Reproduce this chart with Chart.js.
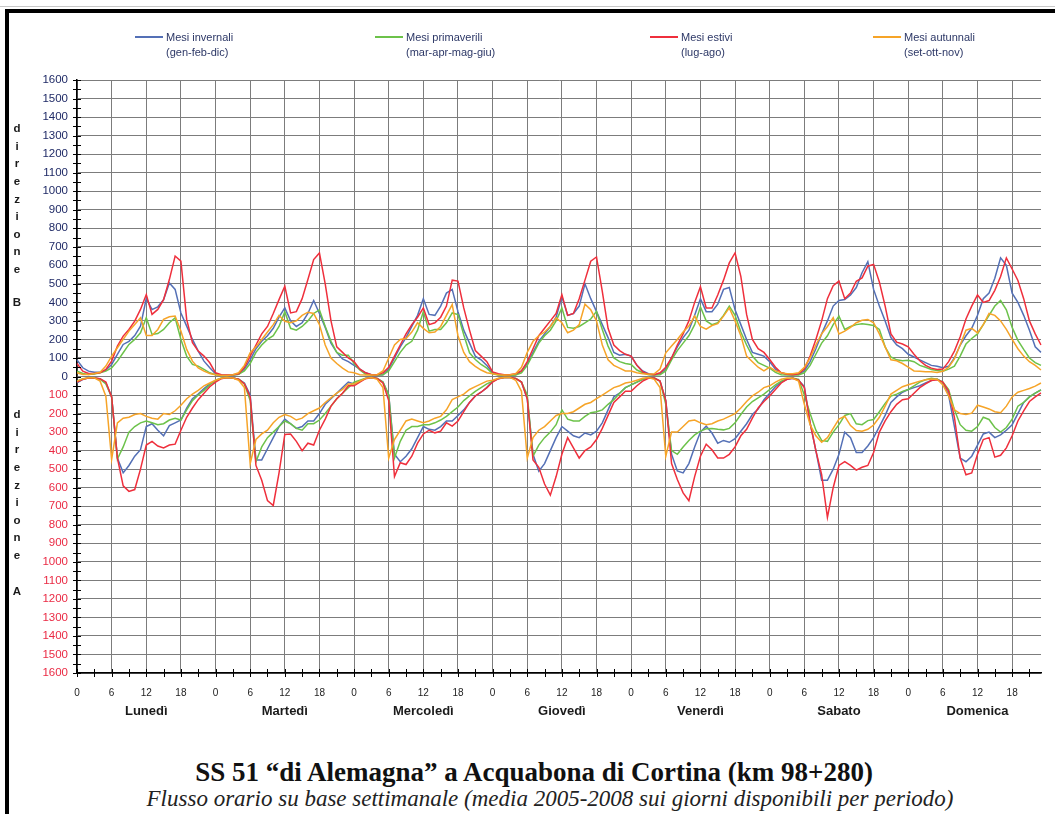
<!DOCTYPE html>
<html>
<head>
<meta charset="utf-8">
<script src="https://cdn.jsdelivr.net/npm/chart.js@4.4.0/dist/chart.umd.min.js"></script>
<style>
  body { margin: 0; background: #fff; width: 1055px; height: 814px; overflow: hidden; position: relative;
         font-family: "Liberation Sans", Arial, sans-serif; }
  #frame { position: absolute; left: 5px; top: 9px; width: 1100px; height: 900px;
           border-left: 4px solid #000; border-top: 4px solid #000; }
  #topline { position: absolute; left: 0; top: 6px; width: 1055px; height: 1px; background: #c8c8c8; }
  #box { position: absolute; left: 0; top: 0; width: 1055px; height: 740px; }
  .leg { position: absolute; font-size: 11px; line-height: 15px; color: #2c3766; white-space: nowrap; }
  .ln { position: absolute; height: 2px; width: 28px; }
  #title { position: absolute; left: 0; top: 756px; width: 1068px; text-align: center;
           font-family: "Liberation Serif", "DejaVu Serif", serif; font-weight: bold; font-size: 27px; line-height: 32px; color: #111; }
  #sub { position: absolute; left: 0; top: 785px; width: 1100px; text-align: center;
         font-family: "Liberation Serif", "DejaVu Serif", serif; font-style: italic; font-size: 23px; line-height: 27px; color: #222; }
</style>
</head>
<body>
<div id="topline"></div>
<div id="frame"></div>
<div id="box"><canvas id="grafico" width="1055" height="740"></canvas></div>
<div id="legend"></div>
<div id="title">SS 51 “di Alemagna” a Acquabona di Cortina (km 98+280)</div>
<div id="sub">Flusso orario su base settimanale (media 2005-2008 sui giorni disponibili per periodo)</div>
<script>
var GIORNI = ['Lunedì', 'Martedì', 'Mercoledì', 'Giovedì', 'Venerdì', 'Sabato', 'Domenica'];
var ORE = [0,1,2,3,4,5,6,7,8,9,10,11,12,13,14,15,16,17,18,19,20,21,22,23];

// direzione B (valori positivi), una riga per giorno
var invernaliB = [
  90,47,29,23,23,34,65,119,173,190,221,272,421,361,376,415,505,470,343,272,200,137,83,47,
  15,5,5,8,12,40,90,150,190,220,260,320,370,300,270,290,340,410,340,265,180,130,95,80,
  60,40,20,10,8,10,40,100,160,210,270,330,420,335,330,380,450,470,350,250,180,110,90,60,
  20,10,8,8,10,30,70,130,190,230,270,320,430,330,340,380,500,420,350,280,210,130,115,120,
  110,60,30,15,10,15,40,100,160,210,250,330,420,350,350,390,470,480,360,280,200,130,120,110,
  80,40,20,12,10,12,30,80,150,230,300,380,410,415,440,480,560,620,470,380,300,210,170,150,
  120,105,90,75,60,55,47,55,100,170,220,260,330,420,450,530,640,600,450,400,330,250,160,130
];
var primaveriliB = [
  29,16,11,14,20,29,47,83,128,173,200,236,317,227,232,254,290,317,200,110,65,56,38,20,
  10,5,5,8,12,30,70,130,170,200,220,270,350,260,250,270,300,340,360,270,190,130,115,115,
  70,35,12,8,8,10,30,80,130,170,190,250,350,245,254,254,290,343,334,225,128,92,65,45,
  15,8,5,5,8,20,60,120,180,220,250,300,370,265,260,270,290,310,352,254,164,100,80,70,
  65,35,20,10,8,10,30,90,140,180,220,280,376,300,280,290,330,380,330,240,170,110,75,60,
  45,22,10,8,8,8,20,60,120,180,220,280,326,254,270,280,285,280,275,254,160,105,90,85,
  88,80,60,50,38,32,29,40,56,110,175,205,230,280,330,380,410,360,265,195,146,100,75,60
];
var estiviB = [
  70,29,16,16,20,38,83,164,218,254,299,362,442,335,362,415,523,650,622,308,182,137,110,74,
  20,10,8,10,15,50,110,170,230,270,340,415,487,343,350,420,523,631,667,500,300,160,130,100,
  80,40,20,10,10,20,50,110,170,230,280,320,370,280,290,320,380,520,515,370,250,140,110,80,
  25,15,10,10,15,30,80,150,220,260,300,340,442,330,340,420,520,622,645,460,260,170,140,120,
  110,60,25,12,10,20,50,100,170,230,300,400,484,370,370,440,520,613,667,540,335,200,150,130,
  92,50,20,12,10,15,40,110,200,300,420,490,515,420,450,514,532,595,605,510,380,230,185,175,
  160,120,85,60,45,38,40,80,137,215,310,380,440,400,410,465,540,640,580,518,420,300,230,170
];
var autunnaliB = [
  20,11,11,16,23,56,110,155,200,245,281,317,221,221,254,308,322,326,245,146,83,47,29,16,
  10,5,5,10,20,60,128,160,200,240,280,330,298,290,300,330,347,340,280,170,100,70,45,25,
  20,10,8,8,10,30,100,170,200,205,240,290,260,236,240,270,330,388,220,130,80,55,35,20,
  15,10,8,10,15,50,130,190,220,240,270,317,290,236,250,280,390,360,300,170,90,60,45,30,
  30,20,15,12,15,40,128,164,200,240,272,326,270,255,275,285,326,370,300,220,110,80,50,30,
  50,30,20,15,15,20,50,100,170,230,270,317,230,245,265,290,303,308,290,230,160,90,85,70,
  50,30,28,25,25,22,28,50,95,170,250,260,235,280,340,330,300,254,200,150,110,80,60,35
];

// direzione A (disegnata sotto lo zero)
var invernaliA = [
  -34,-16,-7,-7,-13,-34,-110,-440,-520,-480,-430,-395,-270,-255,-290,-320,-265,-250,-235,-170,-120,-95,-65,-40,
  -25,-10,-5,-8,-15,-35,-100,-450,-450,-390,-330,-270,-230,-255,-280,-270,-240,-240,-200,-150,-120,-90,-60,-30,
  -40,-25,-10,-5,-10,-30,-100,-420,-460,-430,-390,-330,-270,-285,-290,-270,-240,-240,-210,-180,-140,-105,-85,-60,
  -25,-12,-6,-5,-10,-30,-120,-420,-511,-470,-400,-330,-270,-295,-320,-330,-305,-315,-295,-250,-180,-110,-90,-60,
  -45,-30,-15,-8,-8,-25,-130,-420,-510,-520,-470,-380,-300,-268,-305,-360,-345,-355,-335,-295,-255,-205,-175,-125,
  -90,-55,-30,-15,-10,-20,-55,-250,-400,-560,-560,-500,-420,-300,-330,-410,-410,-375,-330,-270,-210,-140,-110,-85,
  -70,-60,-50,-35,-22,-14,-32,-100,-270,-440,-460,-430,-370,-310,-300,-330,-315,-290,-260,-200,-140,-110,-90,-72
];
var primaveriliA = [
  -25,-12,-8,-8,-15,-40,-110,-445,-380,-300,-270,-250,-240,-250,-260,-255,-235,-225,-235,-180,-130,-100,-75,-45,
  -20,-8,-5,-8,-15,-40,-130,-460,-380,-330,-300,-270,-240,-255,-280,-290,-255,-255,-235,-200,-160,-120,-90,-60,
  -30,-20,-10,-5,-10,-30,-100,-440,-350,-290,-270,-270,-260,-260,-250,-235,-215,-190,-165,-130,-105,-80,-60,-40,
  -25,-10,-5,-5,-10,-30,-100,-430,-370,-330,-300,-260,-180,-230,-240,-240,-215,-195,-190,-180,-150,-125,-90,-60,
  -45,-30,-15,-8,-8,-25,-150,-400,-420,-380,-345,-315,-295,-282,-280,-285,-288,-280,-250,-205,-165,-135,-115,-95,
  -70,-45,-25,-12,-8,-15,-100,-200,-290,-345,-350,-300,-260,-210,-200,-255,-260,-238,-232,-190,-145,-106,-95,-80,
  -70,-50,-30,-18,-10,-15,-30,-70,-180,-260,-290,-295,-270,-220,-232,-275,-300,-275,-230,-160,-140,-110,-90,-72
];
var estiviA = [
  -30,-15,-8,-8,-12,-30,-110,-440,-590,-620,-610,-500,-370,-350,-375,-385,-370,-365,-290,-220,-170,-125,-90,-55,
  -30,-12,-5,-8,-15,-40,-110,-480,-560,-670,-696,-520,-313,-310,-350,-400,-360,-370,-290,-230,-160,-120,-90,-50,
  -50,-30,-12,-5,-10,-35,-130,-540,-465,-475,-430,-360,-310,-290,-304,-295,-250,-268,-240,-190,-140,-105,-85,-60,
  -30,-12,-6,-5,-10,-30,-120,-450,-490,-580,-640,-540,-420,-330,-385,-440,-400,-380,-340,-280,-210,-140,-110,-80,
  -80,-50,-25,-10,-8,-25,-130,-470,-556,-628,-670,-540,-430,-365,-395,-440,-440,-420,-380,-320,-285,-225,-170,-135,
  -105,-70,-35,-15,-10,-20,-60,-250,-400,-530,-760,-600,-480,-460,-480,-505,-490,-480,-410,-300,-240,-190,-150,-125,
  -120,-90,-60,-40,-22,-18,-30,-80,-220,-440,-530,-520,-420,-340,-330,-435,-425,-385,-320,-240,-185,-135,-110,-88
];
var autunnaliA = [
  -25,-13,-7,-7,-25,-106,-448,-250,-225,-220,-205,-200,-215,-225,-230,-200,-205,-185,-155,-120,-95,-75,-50,-35,
  -20,-10,-5,-8,-20,-60,-470,-340,-310,-290,-250,-220,-205,-215,-235,-225,-200,-185,-170,-140,-115,-90,-70,-40,
  -40,-25,-10,-5,-15,-60,-440,-340,-290,-240,-230,-240,-250,-240,-225,-215,-180,-125,-110,-95,-70,-55,-40,-25,
  -20,-10,-5,-5,-20,-80,-440,-330,-290,-270,-240,-210,-200,-200,-190,-170,-150,-140,-120,-100,-80,-60,-50,-35,
  -30,-20,-10,-5,-15,-60,-430,-300,-300,-270,-240,-235,-250,-260,-255,-240,-230,-215,-200,-170,-135,-105,-85,-60,
  -50,-30,-15,-8,-10,-25,-150,-260,-320,-355,-330,-280,-230,-215,-265,-292,-295,-285,-262,-220,-160,-95,-75,-55,
  -45,-35,-25,-18,-14,-15,-45,-105,-180,-200,-205,-198,-155,-165,-175,-190,-195,-160,-110,-85,-75,-65,-52,-35
];

var LEGENDA = [
  ['Mesi invernali', '(gen-feb-dic)'],
  ['Mesi primaverili', '(mar-apr-mag-giu)'],
  ['Mesi estivi', '(lug-ago)'],
  ['Mesi autunnali', '(set-ott-nov)']
];

var BLU = '#5470b6', VERDE = '#6cc24a', ROSSO = '#ef2f3c', ARANCIO = '#f6a428';
var GRIGLIA = '#7c7c7c';
var legX = [135, 375, 650, 873];

// legenda in html (etichette su due righe)
var legColors = [BLU, VERDE, ROSSO, ARANCIO];
var legEl = document.getElementById('legend');
for (var i = 0; i < LEGENDA.length; i++) {
  var ln = document.createElement('div');
  ln.className = 'ln';
  ln.style.left = legX[i] + 'px';
  ln.style.top = '36px';
  ln.style.background = legColors[i];
  legEl.appendChild(ln);
  var t = document.createElement('div');
  t.className = 'leg';
  t.style.left = (legX[i] + 31) + 'px';
  t.style.top = '30px';
  t.innerHTML = LEGENDA[i][0] + '<br>' + LEGENDA[i][1];
  legEl.appendChild(t);
}

var labels = [];
GIORNI.forEach(function() { ORE.forEach(function(h) { labels.push(h); }); });

function serie(data, color) {
  return { data: data, borderColor: color, borderWidth: 1.5, pointRadius: 0, tension: 0, fill: false };
}

// tacche minori, nomi dei giorni, scritte "direzione"
var extra = {
  id: 'extra',
  afterDraw: function(chart) {
    var ctx = chart.ctx, xs = chart.scales.x, ys = chart.scales.y, a = chart.chartArea;
    ctx.save();
    ctx.strokeStyle = '#000';
    ctx.lineWidth = 1;
    ctx.beginPath();
    for (var v = -1600; v <= 1600; v += 50) {
      var y = Math.round(ys.getPixelForValue(v)) + 0.5;
      ctx.moveTo(a.left - 4, y);
      ctx.lineTo(a.left + 4, y);
    }
    for (var k = 0; k < labels.length; k += 3) {
      var x = Math.round(xs.getPixelForValue(k)) + 0.5;
      ctx.moveTo(x, a.bottom - 4);
      ctx.lineTo(x, a.bottom + 4);
    }
    ctx.stroke();

    ctx.fillStyle = '#1a1a1a';
    ctx.font = 'bold 13px "Liberation Sans", Arial, sans-serif';
    ctx.textAlign = 'center';
    ctx.textBaseline = 'middle';
    for (var d = 0; d < GIORNI.length; d++) {
      ctx.fillText(GIORNI[d], xs.getPixelForValue(d * 24 + 12), 711);
    }

    ctx.font = 'bold 11.5px "Liberation Sans", Arial, sans-serif';
    var lettere = 'direzione'.split('');
    for (var j = 0; j < lettere.length; j++) {
      ctx.fillText(lettere[j], 17, 129 + j * 17.6);
      ctx.fillText(lettere[j], 17, 415 + j * 17.6);
    }
    ctx.fillText('B', 17, 303);
    ctx.fillText('A', 17, 592);
    ctx.restore();
  }
};

Chart.defaults.font.family = '"Liberation Sans", Arial, sans-serif';

new Chart(document.getElementById('grafico'), {
  type: 'line',
  data: {
    labels: labels,
    datasets: [
      serie(autunnaliB, ARANCIO), serie(autunnaliA, ARANCIO),
      serie(estiviB, ROSSO), serie(estiviA, ROSSO),
      serie(primaveriliB, VERDE), serie(primaveriliA, VERDE),
      serie(invernaliB, BLU), serie(invernaliA, BLU)
    ]
  },
  options: {
    responsive: false,
    animation: false,
    layout: { padding: { left: 0, right: 3, top: 80, bottom: 0 } },
    plugins: { legend: { display: false }, tooltip: { enabled: false } },
    scales: {
      x: {
        type: 'category',
        offset: false,
        grid: {
          color: function(c) { return c.index % 6 === 0 ? GRIGLIA : 'rgba(0,0,0,0)'; },
          drawTicks: false
        },
        border: { color: '#000', width: 1.5 },
        ticks: {
          autoSkip: false, maxRotation: 0, padding: 14,
          font: { size: 10 }, color: '#222',
          callback: function(v, i) { return i % 6 === 0 ? String(labels[i]) : ''; }
        },
        afterFit: function(s) { s.height = 67; }
      },
      y: {
        min: -1600, max: 1600,
        grid: { color: GRIGLIA, drawTicks: false },
        border: { color: '#000', width: 1.5 },
        ticks: {
          stepSize: 100, padding: 9,
          font: { size: 11.5 },
          color: function(c) { return c.tick && c.tick.value < 0 ? '#ea2a44' : '#1f2a66'; },
          callback: function(v) { return Math.abs(v); }
        },
        afterFit: function(s) { s.width = 77; }
      }
    }
  },
  plugins: [extra]
});
</script>
</body>
</html>
